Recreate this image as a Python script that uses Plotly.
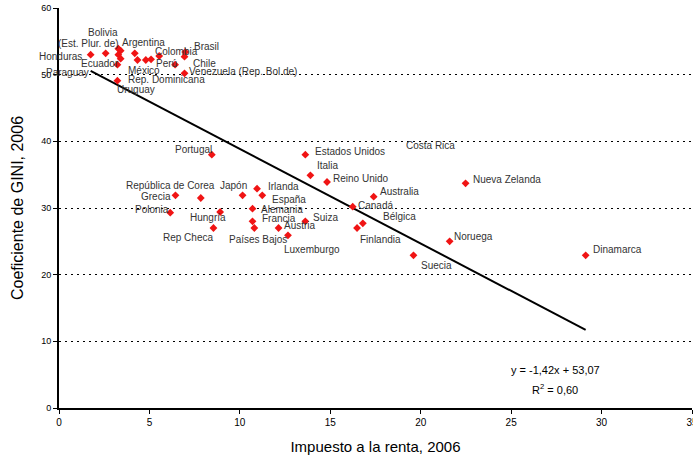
import plotly.graph_objects as go

# ---- data ----
countries = [
    "Honduras", "Bolivia (Est. Plur. de)", "Argentina", "Guatemala", "El Salvador", "Nicaragua",
    "Ecuador", "Rep. Dominicana", "Panamá", "México", "Paraguay", "Uruguay", "Colombia",
    "Perú", "Brasil", "Chile", "Venezuela (Rep. Bol.de)",
    "Portugal", "Estados Unidos", "Italia", "Reino Unido", "Australia", "Canadá",
    "Bélgica", "Finlandia", "Suecia", "Grecia", "República de Corea", "Polonia",
    "Hungría", "Rep Checa", "Japón", "Irlanda", "España", "Alemania", "Francia",
    "Países Bajos", "Austria", "Luxemburgo", "Suiza", "Nueva Zelanda", "Noruega",
    "Dinamarca",
]
impuesto_renta = [
    1.75, 2.58, 3.28, 3.41, 3.28, 3.41,
    3.23, 3.23, 4.19, 4.34, 4.80, 5.09, 5.54,
    6.42, 6.98, 6.94, 6.94,
    8.45, 13.62, 13.90, 14.82, 17.40, 16.24,
    16.80, 16.48, 19.60, 6.44, 7.84, 6.15,
    8.91, 8.54, 10.15, 10.95, 11.24, 10.70, 10.70,
    10.80, 12.14, 12.66, 13.62, 22.48, 21.60,
    29.12,
]
gini = [
    53.0, 53.2, 53.9, 53.6, 53.0, 52.4,
    51.5, 49.1, 53.2, 52.2, 52.2, 52.3, 52.8,
    51.5, 53.4, 52.7, 50.2,
    38.0, 38.0, 34.9, 33.9, 31.7, 30.2,
    27.7, 27.0, 22.9, 31.9, 31.5, 29.3,
    29.4, 27.0, 31.9, 32.9, 31.9, 29.9, 28.0,
    27.0, 27.0, 25.9, 28.0, 33.7, 25.0,
    22.9,
]

# regression shown on the chart
slope = -1.42
intercept = 53.07
eq_text = "y = -1,42x + 53,07"
r2_text = "R<sup>2</sup> = 0,60"

# point labels: text, x, y, anchor
labels = [
    ("Bolivia", 2.41, 56.4, "center"),
    ("(Est. Plur. de)", 1.63, 54.7, "center"),
    ("Argentina", 3.38, 54.8, "left"),
    ("Honduras", 1.36, 52.7, "right"),
    ("Ecuador", 1.10, 51.7, "left"),
    ("Paraguay", 1.78, 50.35, "right"),
    ("México", 3.72, 50.6, "left"),
    ("Rep. Dominicana", 3.68, 49.35, "left"),
    ("Uruguay", 3.07, 47.85, "left"),
    ("Colombia", 5.19, 53.55, "left"),
    ("Perú", 5.23, 51.7, "left"),
    ("Brasil", 7.37, 54.2, "left"),
    ("Chile", 7.31, 51.7, "left"),
    ("Venezuela (Rep. Bol.de)", 7.09, 50.45, "left"),
    ("Portugal", 6.33, 38.8, "left"),
    ("Estados Unidos", 14.04, 38.45, "left"),
    ("Italia", 14.17, 36.45, "left"),
    ("Reino Unido", 15.02, 34.45, "left"),
    ("República de Corea", 3.62, 33.45, "left"),
    ("Japón", 8.78, 33.45, "left"),
    ("Irlanda", 11.46, 33.2, "left"),
    ("Grecia", 4.41, 31.7, "left"),
    ("España", 11.68, 31.3, "left"),
    ("Polonia", 4.08, 29.8, "left"),
    ("Alemania", 11.05, 29.8, "left"),
    ("Hungría", 7.12, 28.6, "left"),
    ("Francia", 11.13, 28.45, "left"),
    ("Suiza", 13.95, 28.6, "left"),
    ("Austria", 12.35, 27.35, "left"),
    ("Rep Checa", 5.65, 25.6, "left"),
    ("Países Bajos", 9.28, 25.35, "left"),
    ("Luxemburgo", 12.35, 23.8, "left"),
    ("Canadá", 16.44, 30.45, "left"),
    ("Bélgica", 17.82, 28.7, "left"),
    ("Finlandia", 16.53, 25.3, "left"),
    ("Australia", 17.63, 32.45, "left"),
    ("Costa Rica", 19.07, 39.45, "left"),
    ("Nueva Zelanda", 22.76, 34.35, "left"),
    ("Noruega", 21.75, 25.7, "left"),
    ("Suecia", 19.90, 21.45, "left"),
    ("Dinamarca", 29.40, 23.8, "left"),
]

x_ticks = [0, 5, 10, 15, 20, 25, 30, 35]
y_ticks = [0, 10, 20, 30, 40, 50, 60]

# ---- figure ----
x_min, x_max = min(impuesto_renta), max(impuesto_renta)

fig = go.Figure()
fig.add_trace(go.Scatter(
    x=[x_min, x_max],
    y=[slope * x_min + intercept, slope * x_max + intercept],
    mode="lines",
    line=dict(color="black", width=2),
    hoverinfo="skip",
    showlegend=False,
))
fig.add_trace(go.Scatter(
    x=impuesto_renta, y=gini, text=countries,
    mode="markers",
    marker=dict(symbol="diamond", size=6, color="#f01414"),
    hovertemplate="%{text}: %{x}, %{y}<extra></extra>",
    showlegend=False,
))

label_font = dict(family="Liberation Sans, Arial, sans-serif", size=10, color="#333333")
for txt, lx, ly, anc in labels:
    fig.add_annotation(x=lx, y=ly, text=txt, showarrow=False,
                       xanchor=anc, yanchor="middle", font=label_font)

narrow = "Liberation Sans Narrow, Arial Narrow, Liberation Sans, sans-serif"
fig.add_annotation(x=27.45, y=5.7, text=eq_text, showarrow=False,
                   xanchor="center", yanchor="middle",
                   font=dict(family=narrow, size=11, color="black"))
fig.add_annotation(x=27.45, y=2.9, text=r2_text, showarrow=False,
                   xanchor="center", yanchor="middle",
                   font=dict(family=narrow, size=11, color="black"))

fig.update_layout(
    width=693, height=455,
    margin=dict(l=59, r=1, t=8, b=47, autoexpand=False),
    paper_bgcolor="white", plot_bgcolor="white",
    font=dict(family="Liberation Sans, Arial, sans-serif", color="black"),
    xaxis=dict(
        range=[0, 35], tickvals=x_ticks, ticktext=[str(v) for v in x_ticks],
        showgrid=False, zeroline=False, automargin=False,
        showline=True, linecolor="black", linewidth=2,
        ticks="outside", ticklen=4, tickcolor="black", tickwidth=1,
        ticklabeloverflow="allow",
        tickfont=dict(family=narrow, size=10, color="black"),
        title=dict(text="Impuesto a la renta, 2006",
                   font=dict(family=narrow, size=15, color="black"), standoff=14),
    ),
    yaxis=dict(
        range=[0, 60], tickvals=y_ticks, ticktext=[str(v) for v in y_ticks],
        showgrid=True, gridcolor="black", gridwidth=1, griddash="2px,4px",
        zeroline=False, automargin=False,
        showline=True, linecolor="black", linewidth=2,
        ticks="outside", ticklen=4, tickcolor="black", tickwidth=1,
        tickfont=dict(family="Liberation Sans, Arial, sans-serif", size=9, color="black"),
        title=dict(text="Coeficiente de GINI, 2006",
                   font=dict(family="Liberation Sans, Arial, sans-serif", size=16, color="black"),
                   standoff=14),
    ),
)

fig.write_html("out.html")
